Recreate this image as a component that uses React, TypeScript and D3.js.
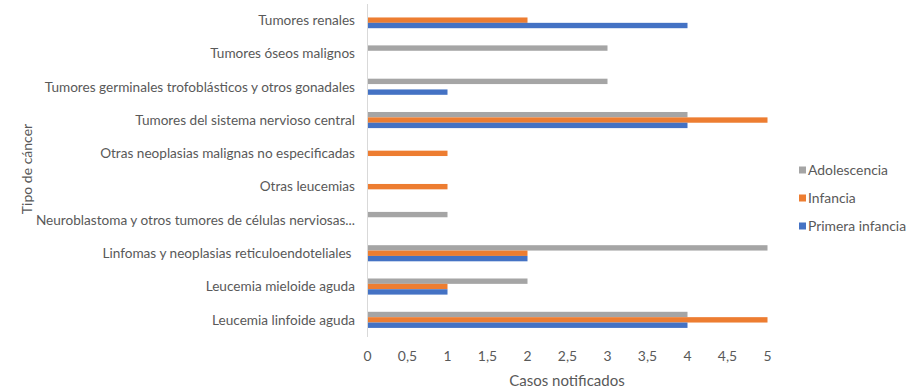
import React, { useRef, useEffect } from 'react'
import * as d3 from 'd3'

// categories, top to bottom as drawn
const categories = [
  'Tumores renales',
  'Tumores óseos malignos',
  'Tumores germinales trofoblásticos y otros gonadales',
  'Tumores del sistema nervioso central',
  'Otras neoplasias malignas no especificadas',
  'Otras leucemias',
  'Neuroblastoma y otros tumores de células nerviosas...',
  'Linfomas y neoplasias reticuloendoteliales ',
  'Leucemia mieloide aguda',
  'Leucemia linfoide aguda',
]

const adolescencia = [0, 3, 3, 4, 0, 0, 1, 5, 2, 4]
const infancia = [2, 0, 0, 5, 1, 1, 0, 2, 1, 5]
const primeraInfancia = [4, 0, 1, 4, 0, 0, 0, 2, 1, 4]

const seriesNames = ['Adolescencia', 'Infancia', 'Primera infancia']
const seriesColors = ['#A5A5A5', '#ED7D31', '#4472C4']
const xTicks = [0, 0.5, 1, 1.5, 2, 2.5, 3, 3.5, 4, 4.5, 5]

export default function App() {
  const svgRef = useRef<SVGSVGElement>(null)
  const width = 924
  const height = 388

  useEffect(() => {
    if (!svgRef.current) return
    const svg = d3.select(svgRef.current)
    svg.selectAll('*').remove()

    const font = 'Lato, "Open Sans", sans-serif'
    const textColor = '#595959'
    const labelSize = 13.6
    const values = [adolescencia, infancia, primeraInfancia]

    const x = d3.scaleLinear().domain([0, 5]).range([367.5, 767.5])
    const y = d3.scaleBand<string>()
      .domain(categories)
      .range([3.5, 336.5])
      .paddingInner(0)
      .paddingOuter(0)
    // three thin bars per category, ~5px each, centred in the band
    const inner = d3.scaleBand<string>()
      .domain(seriesNames)
      .range([0, y.bandwidth()])
      .paddingInner(0)
      .paddingOuter(1.6)

    // bars
    seriesNames.forEach((name, si) => {
      svg.append('g')
        .selectAll('rect')
        .data(categories.map((c, i) => ({ c, v: values[si][i] })).filter(d => d.v > 0))
        .join('rect')
        .attr('x', x(0))
        .attr('y', d => (y(d.c) as number) + (inner(name) as number))
        .attr('width', d => x(d.v) - x(0))
        .attr('height', inner.bandwidth())
        .attr('fill', seriesColors[si])
    })

    // vertical axis line
    svg.append('line')
      .attr('x1', x(0)).attr('x2', x(0))
      .attr('y1', 4).attr('y2', 337)
      .attr('stroke', '#D9D9D9')
      .attr('stroke-width', 1)

    // category labels
    svg.append('g')
      .selectAll('text')
      .data(categories)
      .join('text')
      .attr('x', 355)
      .attr('y', d => (y(d) as number) + y.bandwidth() / 2)
      .attr('dy', '0.35em')
      .attr('text-anchor', 'end')
      .attr('font-family', font)
      .attr('font-size', labelSize)
      .attr('fill', textColor)
      .style('white-space', 'pre')
      .text(d => d)

    // x tick labels
    svg.append('g')
      .selectAll('text')
      .data(xTicks)
      .join('text')
      .attr('x', d => x(d))
      .attr('y', 356)
      .attr('dy', '0.35em')
      .attr('text-anchor', 'middle')
      .attr('font-family', font)
      .attr('font-size', 13.9)
      .attr('fill', textColor)
      .text(d => String(d).replace('.', ','))

    // axis titles
    svg.append('text')
      .attr('x', 567)
      .attr('y', 381)
      .attr('dy', '0.35em')
      .attr('text-anchor', 'middle')
      .attr('font-family', font)
      .attr('font-size', 15)
      .attr('fill', textColor)
      .text('Casos notificados')

    svg.append('text')
      .attr('transform', 'translate(27,169) rotate(-90)')
      .attr('dy', '0.35em')
      .attr('text-anchor', 'middle')
      .attr('font-family', font)
      .attr('font-size', 14)
      .attr('fill', textColor)
      .text('Tipo de cáncer')

    // legend
    const legend = svg.append('g')
    seriesNames.forEach((name, i) => {
      const ly = 170 + i * 28
      legend.append('rect')
        .attr('x', 799)
        .attr('y', ly - 3.5)
        .attr('width', 7)
        .attr('height', 7)
        .attr('fill', seriesColors[i])
      legend.append('text')
        .attr('x', 808)
        .attr('y', ly)
        .attr('dy', '0.35em')
        .attr('font-family', font)
        .attr('font-size', 13.9)
        .attr('fill', textColor)
        .text(name)
    })
  }, [])

  return (
    <svg
      ref={svgRef}
      width={width}
      height={height}
      style={{ position: 'absolute', left: 0, top: 0, background: 'white' }}
    />
  )
}
